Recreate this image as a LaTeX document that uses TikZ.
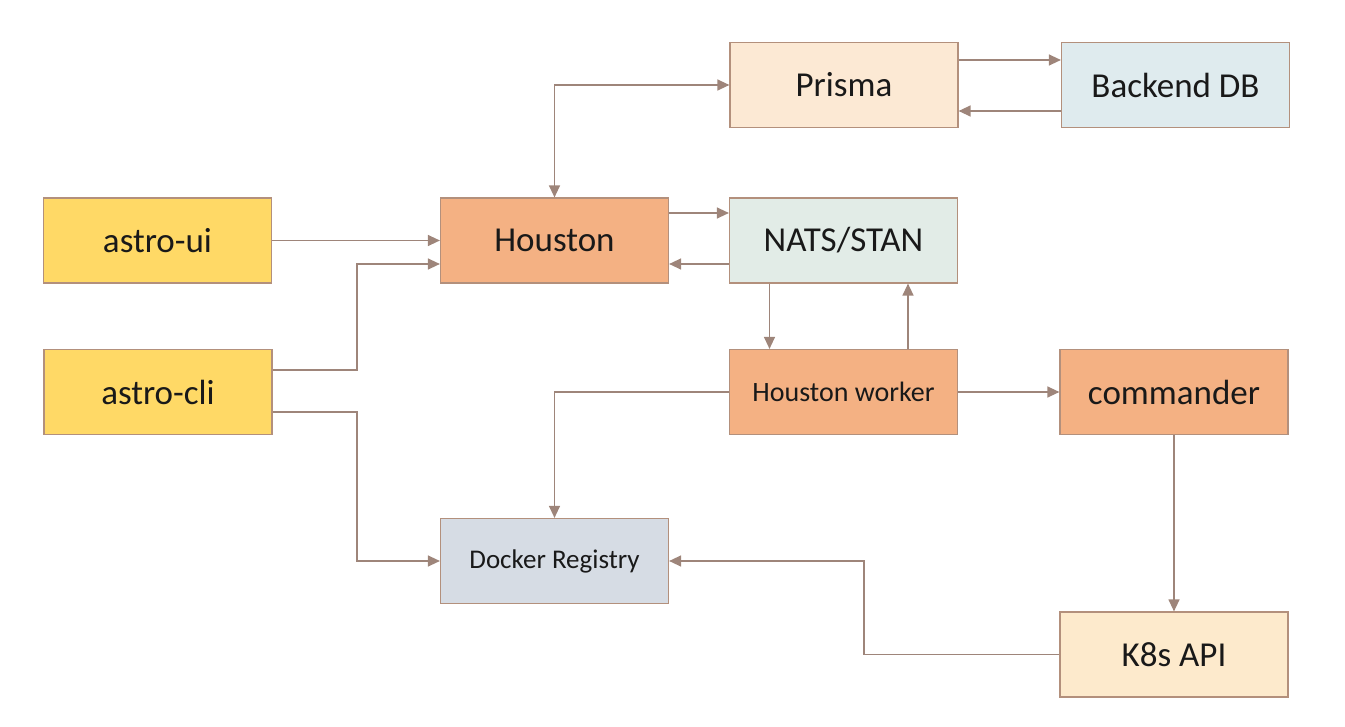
\documentclass[tikz,border=0pt]{standalone}
\usepackage{fontspec}
\setmainfont{Carlito}
\usetikzlibrary{arrows.meta}
\definecolor{cyellow}{HTML}{FFD966}
\definecolor{corange}{HTML}{F4B183}
\definecolor{cnats}{HTML}{E2ECE7}
\definecolor{cprisma}{HTML}{FCE9D4}
\definecolor{cbackend}{HTML}{DFEBEE}
\definecolor{cdocker}{HTML}{D6DCE4}
\definecolor{ck8s}{HTML}{FDEACC}
\definecolor{cborder}{HTML}{B3907C}
\definecolor{carrow}{HTML}{9E857A}
\tikzset{
  box/.style={draw=cborder, line width=1.2pt, rectangle, minimum width=228pt, minimum height=85pt, inner sep=0pt, text=black!90, font=\fontsize{35}{40}\selectfont},
  smallbox/.style={box, font=\fontsize{28}{32}\selectfont},
  tinybox/.style={box, font=\fontsize{27}{30}\selectfont},
  arr/.style={draw=carrow, line width=1.3pt, -{Triangle[length=12pt,width=11pt]}},
  biarr/.style={draw=carrow, line width=1.3pt, {Triangle[length=12pt,width=11pt]}-{Triangle[length=12pt,width=11pt]}}
}
\begin{document}
\begin{tikzpicture}[x=1pt,y=-1pt]
\useasboundingbox (0,0) rectangle (1345,727);
\node[box, fill=cprisma] (prisma) at (844,85) {Prisma};
\node[box, fill=cbackend] (backend) at (1175.5,85) {Backend DB};
\node[box, fill=cyellow] (astroui) at (157.5,240.5) {astro-ui};
\node[box, fill=corange] (houston) at (554.5,240.5) {Houston};
\node[box, fill=cnats] (nats) at (843.5,240.5) {NATS/STAN};
\node[box, fill=cyellow] (astrocli) at (158,392) {astro-cli};
\node[smallbox, fill=corange] (worker) at (843.5,392) {Houston worker};
\node[box, fill=corange] (commander) at (1174,392) {commander};
\node[tinybox, fill=cdocker] (docker) at (554.5,561) {Docker Registry};
\node[box, fill=ck8s] (k8s) at (1174,654.5) {K8s API};

\coordinate (j1) at (357,0);
\coordinate (j2) at (864,0);
\coordinate (cliA) at ([yshift=22pt]astrocli.east);
\coordinate (cliB) at ([yshift=-20pt]astrocli.east);
\coordinate (houB) at ([yshift=-23.5pt]houston.west);

\draw[biarr] (houston.north) |- (prisma.west);
\draw[arr] ([yshift=25pt]prisma.east) -- ([yshift=25pt]backend.west);
\draw[arr] ([yshift=-26pt]backend.west) -- ([yshift=-26pt]prisma.east);
\draw[arr] (astroui.east) -- (houston.west);
\draw[arr] (cliA) -- (cliA -| j1) |- (houB);
\draw[arr] (cliB) -- (cliB -| j1) |- (docker.west);
\draw[arr] ([yshift=27.5pt]houston.east) -- ([yshift=27.5pt]nats.west);
\draw[arr] ([yshift=-23.5pt]nats.west) -- ([yshift=-23.5pt]houston.east);
\draw[arr] ([xshift=-74pt]nats.south) -- ([xshift=-74pt]worker.north);
\draw[arr] ([xshift=64.5pt]worker.north) -- ([xshift=64.5pt]nats.south);
\draw[arr] (worker.west) -| (docker.north);
\draw[arr] (worker.east) -- (commander.west);
\draw[arr] (commander.south) -- (k8s.north);
\draw[arr] (k8s.west) -- (k8s.west -| j2) |- (docker.east);
\end{tikzpicture}
\end{document}
